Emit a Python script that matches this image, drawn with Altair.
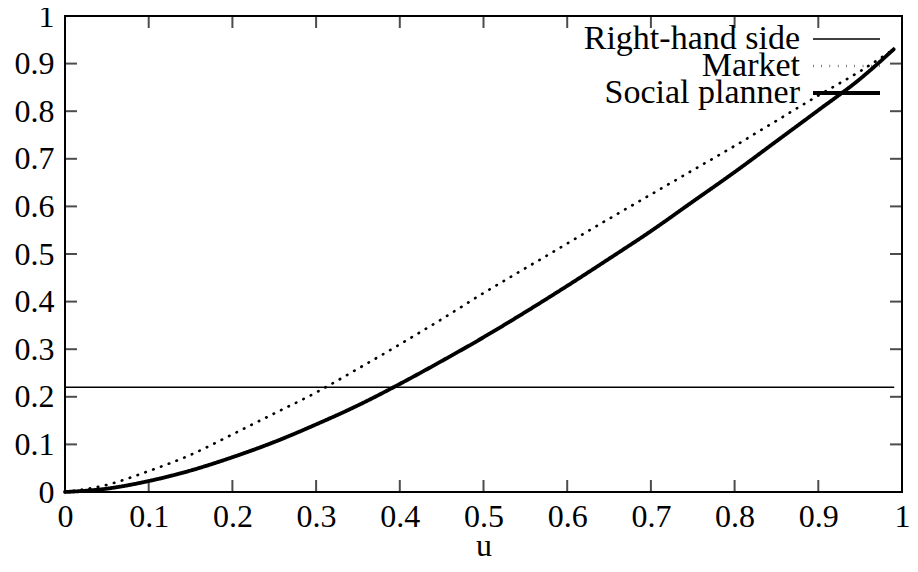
import altair as alt
import pandas as pd

# ---- data ----
u_grid = [0, 0.05, 0.1, 0.15, 0.2, 0.25, 0.3, 0.35, 0.4, 0.45, 0.5,
          0.55, 0.6, 0.65, 0.7, 0.75, 0.8, 0.85, 0.9, 0.95, 0.99]
market = [0, 0.015, 0.044, 0.078, 0.121, 0.165, 0.209, 0.259, 0.31, 0.363, 0.418,
          0.47, 0.522, 0.574, 0.625, 0.676, 0.727, 0.78, 0.833, 0.884, 0.93]
planner = [0, 0.007, 0.023, 0.045, 0.073, 0.105, 0.142, 0.182, 0.227, 0.275, 0.325,
           0.378, 0.433, 0.49, 0.548, 0.61, 0.672, 0.737, 0.802, 0.868, 0.93]
rhs_u = [0, 0.99]
rhs_v = [0.22, 0.22]
series_names = ["Right-hand side", "Market", "Social planner"]
tick_values = [0.1, 0.2, 0.3, 0.4, 0.5, 0.6, 0.7, 0.8, 0.9]
label_values = [0, 0.1, 0.2, 0.3, 0.4, 0.5, 0.6, 0.7, 0.8, 0.9, 1]

rows = []
for u, v in zip(rhs_u, rhs_v):
    rows.append({"u": u, "v": v, "series": series_names[0]})
for u, v in zip(u_grid, market):
    rows.append({"u": u, "v": v, "series": series_names[1]})
for u, v in zip(u_grid, planner):
    rows.append({"u": u, "v": v, "series": series_names[2]})
df = pd.DataFrame(rows)
ticks_df = pd.DataFrame({"t": tick_values})
legend_df = pd.DataFrame({"series": series_names, "row": list(range(len(series_names)))})

FONT = "Liberation Serif"
FS = 32

xscale = alt.Scale(domain=[0, 1], nice=False, zero=False)
yscale = alt.Scale(domain=[0, 1], nice=False, zero=False)
dash_scale = alt.Scale(domain=series_names, range=[[1, 0], [0.5, 7.8], [1, 0]])
width_scale = alt.Scale(domain=series_names, range=[1.5, 3.8, 3.2])

lines = alt.Chart(df).mark_line(color="black", strokeCap="round", interpolate="monotone").encode(
    x=alt.X("u:Q", scale=xscale, title="u",
            axis=alt.Axis(values=label_values, format="~g", domain=False, ticks=False,
                          grid=False, labelFont=FONT, labelFontSize=FS, labelColor="black",
                          labelPadding=9, labelFlush=False, labelOverlap=False,
                          titleFont=FONT, titleFontSize=FS, titleFontWeight="normal",
                          titleColor="black", titleY=53, titleBaseline="middle")),
    y=alt.Y("v:Q", scale=yscale, title=None,
            axis=alt.Axis(values=label_values, format="~g", domain=False, ticks=False,
                          grid=False, labelFont=FONT, labelFontSize=FS, labelColor="black",
                          labelPadding=11, labelFlush=False, labelOverlap=False)),
    strokeDash=alt.StrokeDash("series:N", scale=dash_scale, legend=None),
    strokeWidth=alt.StrokeWidth("series:N", scale=width_scale, legend=None),
    detail="series:N",
)

tick_style = dict(color="black", size=12, thickness=2)
bottom_ticks = alt.Chart(ticks_df).mark_tick(orient="vertical", yOffset=-6, **tick_style).encode(
    x=alt.X("t:Q", scale=xscale), y=alt.datum(0))
top_ticks = alt.Chart(ticks_df).mark_tick(orient="vertical", yOffset=6, **tick_style).encode(
    x=alt.X("t:Q", scale=xscale), y=alt.datum(1))
left_ticks = alt.Chart(ticks_df).mark_tick(orient="horizontal", xOffset=6, **tick_style).encode(
    y=alt.Y("t:Q", scale=yscale), x=alt.datum(0))
right_ticks = alt.Chart(ticks_df).mark_tick(orient="horizontal", xOffset=-6, **tick_style).encode(
    y=alt.Y("t:Q", scale=yscale), x=alt.datum(1))

plot = alt.layer(lines, bottom_ticks, top_ticks, left_ticks, right_ticks)

# gnuplot-style key: label text to the left of the line sample, top right corner
row_y = alt.Y("row:Q", scale=alt.Scale(domain=[0, 2], range=[23, 77], nice=False, zero=False),
              axis=None)
key_text = alt.Chart(legend_df).mark_text(
    align="right", baseline="middle", font=FONT, fontSize=34, color="black"
).encode(y=row_y, x=alt.value(735), text="series:N")
key_line = alt.Chart(legend_df).mark_rule(color="black").encode(
    y=row_y, x=alt.value(748), x2=alt.value(815),
    strokeDash=alt.StrokeDash("series:N", scale=dash_scale, legend=None),
    strokeWidth=alt.StrokeWidth("series:N", scale=width_scale, legend=None),
)
key = alt.layer(key_text, key_line)

chart = alt.layer(plot, key).resolve_scale(y="independent").properties(
    width=837, height=476,
    autosize="none",
    padding={"left": 57, "top": 8, "right": 8, "bottom": 68},
    background="white",
).configure_view(stroke="black", strokeWidth=2)

chart.save("out.html", embed_options={"renderer": "svg", "actions": False})
